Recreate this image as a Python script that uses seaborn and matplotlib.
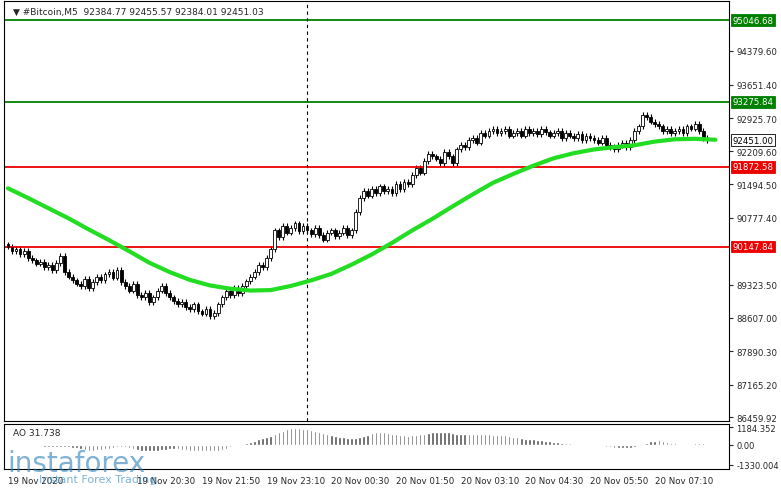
import numpy as np
import pandas as pd
import seaborn as sns
import matplotlib.pyplot as plt
from matplotlib.patches import Rectangle

# close prices, one per 5-minute candle
closes = [
    90150, 90050, 90100, 89980, 90060, 89900, 89850, 89780, 89820, 89700,
    89760, 89650, 89800, 89950, 89600, 89500, 89420, 89350, 89300, 89450,
    89250, 89380, 89500, 89420, 89550, 89600, 89480, 89650, 89380, 89300,
    89200, 89350, 89100, 89050, 89150, 88950, 89050, 89200, 89300, 89150,
    89050, 88980, 88900, 88950, 88850, 88800, 88900, 88750, 88700, 88800,
    88650, 88720, 88900, 89050, 89200, 89100, 89250, 89150, 89300, 89400,
    89500, 89600, 89750, 89700, 89900, 90100, 90500, 90350, 90600, 90450,
    90550, 90650, 90480, 90600, 90500, 90420, 90550, 90400, 90300, 90450,
    90500, 90380, 90450, 90550, 90400, 90500, 90900, 91200, 91350, 91250,
    91400, 91300, 91450, 91350, 91400, 91300, 91500, 91400, 91550, 91500,
    91700, 91850, 91750, 92000, 92150, 92100, 92050, 91950, 92200, 92100,
    91950, 92250, 92350, 92300, 92450, 92500, 92400, 92600, 92550, 92650,
    92700, 92600, 92650, 92700, 92550, 92600, 92650, 92550, 92700, 92600,
    92650, 92580, 92700, 92620, 92550, 92600, 92650, 92500, 92600, 92550,
    92500, 92580, 92450, 92550, 92500, 92450, 92400, 92500, 92350, 92300,
    92250, 92350, 92400, 92300, 92450, 92650, 92750, 93000, 92950, 92850,
    92800, 92750, 92650, 92700, 92600, 92650, 92700, 92600, 92750, 92700,
    92800, 92650, 92500, 92451,
]
first_open = 90200

# moving average read every 5 candles
ma_idx = list(range(0, 180, 5))
ma_vals = [91410, 91200, 90980, 90760, 90520, 90290, 90050, 89800, 89600, 89430,
           89310, 89240, 89200, 89210, 89300, 89420, 89560, 89760, 89980, 90230,
           90500, 90750, 91020, 91280, 91530, 91720, 91900, 92060, 92170, 92250,
           92300, 92340, 92420, 92470, 92480, 92460]

green_levels = [95046.68, 93275.84]
red_levels = [91872.58, 90147.84]
price_ticks = [94379.60, 93651.40, 92925.70, 92209.60, 91494.50, 90777.40,
               89323.50, 88607.00, 87890.30, 87165.20, 86459.92]
time_labels = ["19 Nov 2020", "19 Nov 20:30", "19 Nov 21:50", "19 Nov 23:10",
               "20 Nov 00:30", "20 Nov 01:50", "20 Nov 03:10", "20 Nov 04:30",
               "20 Nov 05:50", "20 Nov 07:10"]
time_idx = [0, 32, 48, 64, 80, 96, 112, 128, 144, 160]

df = pd.DataFrame({"close": closes})
df["open"] = [first_open] + closes[:-1]
df["high"] = df[["open", "close"]].max(axis=1) + 60
df["low"] = df[["open", "close"]].min(axis=1) - 60
med = (df["high"] + df["low"]) / 2
df["ao"] = med.rolling(5, min_periods=1).mean() - med.rolling(34, min_periods=1).mean()

sns.set_style("white")
fig = plt.figure(figsize=(7.81, 4.89), dpi=100)
ax = fig.add_axes([0.005, 0.137, 0.929, 0.859])
ax2 = fig.add_axes([0.005, 0.039, 0.929, 0.092])

for i, r in df.iterrows():
    ax.vlines(i, r["low"], r["high"], color="black", lw=0.8)
    b = min(r["open"], r["close"])
    h = max(abs(r["close"] - r["open"]), 15)
    face = "white" if r["close"] >= r["open"] else "black"
    ax.add_patch(Rectangle((i - 0.35, b), 0.7, h, facecolor=face,
                           edgecolor="black", lw=0.6, zorder=3))

sns.lineplot(x=ma_idx, y=ma_vals, ax=ax, color="#22dd22", lw=3, zorder=4)

for lv in green_levels:
    ax.axhline(lv, color="#008000", lw=1.3)
for lv in red_levels:
    ax.axhline(lv, color="#ee0000", lw=1.3)
ax.axvline(74, color="black", lw=0.8, ls=(0, (3, 3)))

ax.set_xlim(-1, 178.5)
ax.set_ylim(86380, 95460)
ax.yaxis.tick_right()
ax.set_yticks(price_ticks)
ax.set_yticklabels([f"{v:.2f}" for v in price_ticks], fontsize=6.2)
ax.tick_params(axis="y", length=3, pad=2)
ax.set_xticks([])
for lv, c in [(green_levels[0], "#008000"), (green_levels[1], "#008000"),
              (red_levels[0], "#ee0000"), (red_levels[1], "#ee0000"),
              (closes[-1], "white")]:
    ax.text(1.004, lv, f"{lv:.2f}", transform=ax.get_yaxis_transform(),
            fontsize=6.2, va="center", ha="left",
            color="black" if c == "white" else "white",
            bbox=dict(boxstyle="square,pad=0.15", fc=c, ec="black" if c == "white" else c, lw=0.6))
ax.text(0.012, 0.985, "▼ #Bitcoin,M5  92384.77 92455.57 92384.01 92451.03",
        transform=ax.transAxes, fontsize=6.5, va="top")

ax2.bar(df.index, df["ao"], width=0.6, color="#555555")
ax2.set_xlim(-1, 178.5)
ax2.set_ylim(-1600, 1400)
ax2.yaxis.tick_right()
ax2.set_yticks([1184.352, 0, -1330.004])
ax2.set_yticklabels(["1184.352", "0.00", "-1330.004"], fontsize=6)
ax2.set_xticks(time_idx)
ax2.set_xticklabels(time_labels, fontsize=6.2, ha="left")
ax2.tick_params(axis="x", length=3, pad=2)
ax2.tick_params(axis="y", length=3, pad=2)
ax2.text(0.012, 0.9, "AO 31.738", transform=ax2.transAxes, fontsize=6.5, va="top")

for a in (ax, ax2):
    for s in a.spines.values():
        s.set_color("black")
        s.set_linewidth(0.8)

fig.text(0.01, 0.035, "instaforex", fontsize=20, color="#2a7fb8", alpha=0.6)
fig.text(0.05, 0.012, "Instant Forex Trading", fontsize=8, color="#2a7fb8", alpha=0.6)

fig.savefig("out.png", dpi=100)
